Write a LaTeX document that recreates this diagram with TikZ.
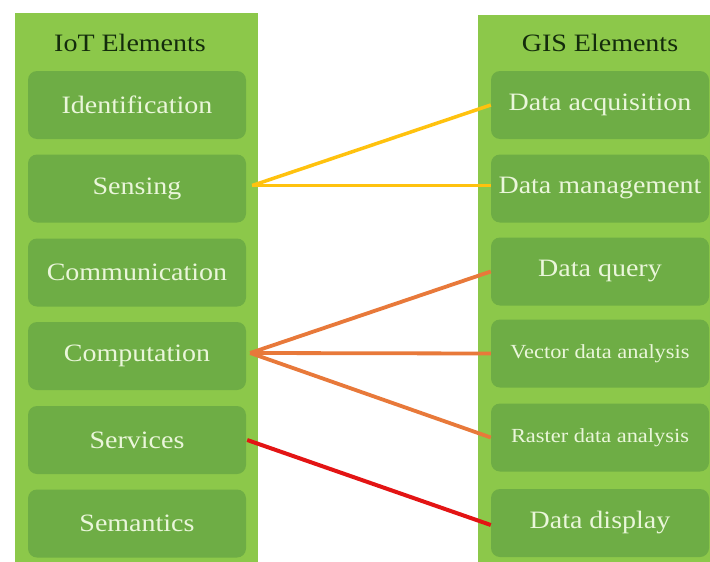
\documentclass[tikz,border=0pt]{standalone}
\usepackage{fontspec}
\setmainfont[FakeStretch=1.12]{Liberation Serif}
\definecolor{panelgreen}{HTML}{8CC84A}
\definecolor{boxgreen}{HTML}{6EAD45}
\definecolor{boxtext}{HTML}{EAF6DA}
\definecolor{headtext}{HTML}{142C0C}
\definecolor{lyellow}{HTML}{FFC20E}
\definecolor{lorange}{HTML}{E8793A}
\definecolor{lred}{HTML}{E31414}
\tikzset{
  panel/.style={fill=panelgreen, draw=none},
  elbox/.style={fill=boxgreen, draw=none, rounded corners=9pt, minimum width=218pt, minimum height=68pt, inner sep=0pt, text=boxtext, font=\fontsize{25}{28}\selectfont},
  smalltext/.style={font=\fontsize{20}{23}\selectfont},
  header/.style={text=headtext, font=\fontsize{25}{28}\selectfont, inner sep=0pt},
  yline/.style={draw=lyellow, line width=3.5pt},
  oline/.style={draw=lorange, line width=3.8pt},
  rline/.style={draw=lred, line width=4pt}
}
\begin{document}
\begin{tikzpicture}[x=1pt,y=-1pt]
\useasboundingbox (0,0) rectangle (710,562);
\fill[white] (0,0) rectangle (710,562);
% panels
\path[panel] (15,13) rectangle (258,562);
\path[panel] (478,15) rectangle (710,562);
% headers
\node[header] (iothead) at (130,43) {IoT Elements};
\node[header] (gishead) at (600,43) {GIS Elements};
% left boxes
\node[elbox] (ide) at (137,105) {Identification};
\node[elbox] (sen) at (137,188.5) {Sensing};
\node[elbox] (com) at (137,272.5) {Communication};
\node[elbox] (cmp) at (137,356) {Computation};
\node[elbox] (ser) at (137,440) {Services};
\node[elbox] (sem) at (137,523.5) {Semantics};
% right boxes
\node[elbox] (dacq) at (600,105) {Data acquisition};
\node[elbox] (dman) at (600,188.5) {Data management};
\node[elbox] (dque) at (600,271.5) {Data query};
\node[elbox, smalltext] (vec) at (600,353.5) {Vector data analysis};
\node[elbox, smalltext] (ras) at (600,437.5) {Raster data analysis};
\node[elbox] (ddis) at (600,523) {Data display};
% connectors
\coordinate (senp) at ([xshift=6pt,yshift=3pt]sen.east);
\coordinate (cmpp) at ([xshift=4pt,yshift=3pt]cmp.east);
\coordinate (serp) at ([xshift=1pt]ser.east);
\draw[yline] (senp) -- (dacq.west);
\draw[yline] (senp) -- ([yshift=3pt]dman.west);
\draw[oline] (cmpp) -- (dque.west);
\draw[oline] (cmpp) -- (vec.west);
\draw[oline] (cmpp) -- (ras.west);
\draw[rline] (serp) -- ([yshift=-2pt]ddis.west);
\end{tikzpicture}
\end{document}
